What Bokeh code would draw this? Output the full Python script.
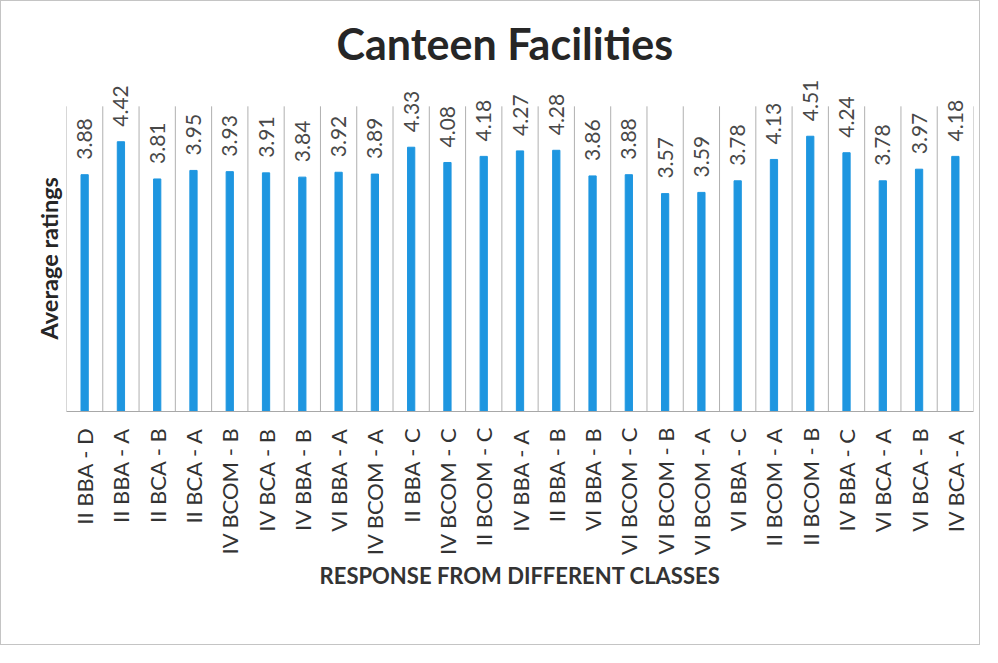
import math
from bokeh.plotting import figure
from bokeh.models import FactorRange, Range1d, ColumnDataSource, FixedTicker, Title
from bokeh.core.properties import value
from bokeh.embed import file_html
from bokeh.resources import INLINE

categories = ["II BBA - D", "II BBA - A", "II BCA - B", "II BCA - A", "IV BCOM - B",
              "IV BCA - B", "IV BBA - B", "VI BBA - A", "IV BCOM - A", "II BBA - C",
              "IV BCOM - C", "II BCOM - C", "IV BBA - A", "II BBA - B", "VI BBA - B",
              "VI BCOM - C", "VI BCOM - B", "VI BCOM - A", "VI BBA - C", "II BCOM - A",
              "II BCOM - B", "IV BBA - C", "VI BCA - A", "VI BCA - B", "IV BCA - A"]
ratings = [3.88, 4.42, 3.81, 3.95, 3.93, 3.91, 3.84, 3.92, 3.89, 4.33,
           4.08, 4.18, 4.27, 4.28, 3.86, 3.88, 3.57, 3.59, 3.78, 4.13,
           4.51, 4.24, 3.78, 3.97, 4.18]
value_labels = [f"{v:.2f}" for v in ratings]
axis_min, axis_max = 0, 5
view_max = 5.62  # extra headroom so the value labels are not clipped

FONT = "Lato"

src = ColumnDataSource(dict(cat=categories, val=ratings, lab=value_labels))

p = figure(width=980, height=645, x_range=FactorRange(*categories, range_padding=0),
           y_range=Range1d(axis_min, view_max), output_backend="svg", toolbar_location=None,
           title="Canteen Facilities",
           min_border_left=65, min_border_right=8, min_border_top=67, min_border_bottom=235)
p.styles = {"border": "1px solid #c4c4c4"}
p.outline_line_color = None
p.background_fill_color = "white"
p.border_fill_color = "white"

p.title.align = "left"
p.title.offset = 270
p.title.text_font = FONT
p.title.text_font_size = "43px"
p.title.text_font_style = "bold"
p.title.text_color = "#262626"
p.title.standoff = 0

p.xgrid.grid_line_color = None
p.ygrid.grid_line_color = None

# category boundary lines
bx = [(c, -0.5) for c in categories] + [(categories[-1], 0.5)]
p.segment(x0=bx, y0=[axis_min] * len(bx), x1=bx, y1=[axis_max] * len(bx),
          line_color="#b0b0b0", line_width=1)

p.vbar(x="cat", top="val", width=0.2, bottom=0, color="#1e96e0", source=src)

p.text(x="cat", y="val", text="lab", source=src, angle=math.pi / 2,
       text_align="left", text_baseline="middle", y_offset=-15,
       text_font=value(FONT), text_font_size="21px", text_color="#484848")

xa = p.xaxis[0]
xa.axis_line_color = "#a8a8a8"
xa.major_tick_line_color = None
xa.minor_tick_line_color = None
xa.major_label_orientation = math.pi / 2
xa.major_label_text_font = FONT
xa.major_label_text_font_size = "22px"
xa.major_label_text_color = "#333333"
xa.major_label_standoff = 10
xa.axis_label = "RESPONSE FROM DIFFERENT CLASSES"
xa.axis_label_text_font = FONT
xa.axis_label_text_font_size = "22px"
xa.axis_label_text_font_style = "bold"
xa.axis_label_text_color = "#333333"
xa.axis_label_standoff = 4

ya = p.yaxis[0]
ya.ticker = FixedTicker(ticks=[])
ya.axis_line_color = None
ya.major_tick_line_color = None
ya.minor_tick_line_color = None
ya.major_label_standoff = 0

ylabel = Title(text="Average ratings", align="left", offset=72, standoff=7,
               text_font=FONT, text_font_size="23.5px", text_font_style="bold",
               text_color="#262626")
p.add_layout(ylabel, "left")

open("out.html", "w").write(file_html(p, INLINE))
